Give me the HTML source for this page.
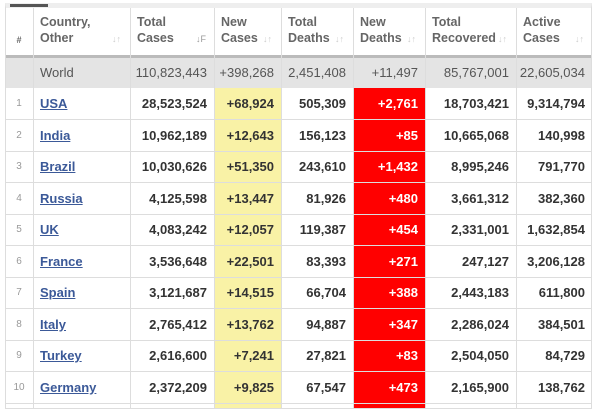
<!DOCTYPE html>
<html><head><style>
body{margin:0;width:600px;height:417px;background:#fff;position:relative;overflow:hidden;font-family:"Liberation Sans",sans-serif}
div{position:absolute;box-sizing:border-box}
.v{top:8px;height:400px;width:1px;background:#ddd}
.h{left:5px;width:587px;height:1px;background:#ddd}
.t{font-size:13px;font-weight:bold;color:#333;text-align:right;line-height:31px;height:31px;white-space:nowrap}
.hd{top:14px;font-size:12.5px;font-weight:bold;color:#666;line-height:16px}
.s{top:34px;font-size:9px;color:#ccc}
.n{font-size:10px;color:#999;text-align:center;line-height:31px;height:31px;left:5px;width:28px}
.c{left:40px;font-size:13px;font-weight:bold;color:#3b5998;text-decoration:underline;line-height:31px;height:31px}
</style></head><body>
<div style="left:5px;top:3px;width:587px;height:406px;border:1px solid #ddd;border-top:5px solid #eee"></div>
<div style="left:10px;top:4px;width:38px;height:3px;background:#555"></div>
<div style="left:5px;top:57px;width:587px;height:31px;background:#e4e4e4"></div>
<div style="left:5px;top:55px;width:587px;height:3px;background:#bbb"></div>
<div style="left:214px;top:88px;width:67px;height:320px;background:#f9f2a6"></div>
<div style="left:353px;top:88px;width:72px;height:320px;background:#f00"></div>
<div class="v" style="left:5px"></div><div class="v" style="left:33px"></div><div class="v" style="left:130px"></div><div class="v" style="left:214px"></div><div class="v" style="left:281px"></div><div class="v" style="left:353px"></div><div class="v" style="left:425px"></div><div class="v" style="left:516px"></div><div class="v" style="left:591px"></div>
<div class="h" style="top:119px"></div><div class="h" style="top:151px"></div><div class="h" style="top:182px"></div><div class="h" style="top:214px"></div><div class="h" style="top:245px"></div><div class="h" style="top:277px"></div><div class="h" style="top:308px"></div><div class="h" style="top:340px"></div><div class="h" style="top:371px"></div><div class="h" style="top:403px"></div>
<div class="hd" style="left:5px;width:28px;text-align:center;top:32px;font-size:9px">#</div>
<div class="hd" style="left:40px">Country,<br>Other</div><div class="s" style="left:112px">↓↑</div>
<div class="hd" style="left:137px">Total<br>Cases</div><div class="s" style="left:196px;color:#999">↓F</div>
<div class="hd" style="left:221px">New<br>Cases</div><div class="s" style="left:263px">↓↑</div>
<div class="hd" style="left:288px">Total<br>Deaths</div><div class="s" style="left:335px">↓↑</div>
<div class="hd" style="left:360px">New<br>Deaths</div><div class="s" style="left:407px">↓↑</div>
<div class="hd" style="left:432px">Total<br>Recovered</div><div class="s" style="left:498px">↓↑</div>
<div class="hd" style="left:523px">Active<br>Cases</div><div class="s" style="left:575px">↓↑</div>
<div class="t" style="left:40px;top:57px;font-weight:normal;color:#555;text-align:left">World</div>
<div class="t" style="left:130px;width:77px;top:57px;font-weight:normal;color:#555">110,823,443</div>
<div class="t" style="left:214px;width:60px;top:57px;font-weight:normal;color:#555">+398,268</div>
<div class="t" style="left:281px;width:65px;top:57px;font-weight:normal;color:#555">2,451,408</div>
<div class="t" style="left:353px;width:65px;top:57px;font-weight:normal;color:#555">+11,497</div>
<div class="t" style="left:425px;width:84px;top:57px;font-weight:normal;color:#555">85,767,001</div>
<div class="t" style="left:516px;width:69px;top:57px;font-weight:normal;color:#555">22,605,034</div>
<div id="rows"></div>
<div class="n" style="top:88px">1</div><div class="c" style="top:88px">USA</div><div class="t" style="top:88px;left:130px;width:77px">28,523,524</div><div class="t" style="top:88px;left:214px;width:60px">+68,924</div><div class="t" style="top:88px;left:281px;width:65px">505,309</div><div class="t" style="top:88px;left:353px;width:65px;color:#fff">+2,761</div><div class="t" style="top:88px;left:425px;width:84px">18,703,421</div><div class="t" style="top:88px;left:516px;width:69px">9,314,794</div>
<div class="n" style="top:120px">2</div><div class="c" style="top:120px">India</div><div class="t" style="top:120px;left:130px;width:77px">10,962,189</div><div class="t" style="top:120px;left:214px;width:60px">+12,643</div><div class="t" style="top:120px;left:281px;width:65px">156,123</div><div class="t" style="top:120px;left:353px;width:65px;color:#fff">+85</div><div class="t" style="top:120px;left:425px;width:84px">10,665,068</div><div class="t" style="top:120px;left:516px;width:69px">140,998</div>
<div class="n" style="top:151px">3</div><div class="c" style="top:151px">Brazil</div><div class="t" style="top:151px;left:130px;width:77px">10,030,626</div><div class="t" style="top:151px;left:214px;width:60px">+51,350</div><div class="t" style="top:151px;left:281px;width:65px">243,610</div><div class="t" style="top:151px;left:353px;width:65px;color:#fff">+1,432</div><div class="t" style="top:151px;left:425px;width:84px">8,995,246</div><div class="t" style="top:151px;left:516px;width:69px">791,770</div>
<div class="n" style="top:183px">4</div><div class="c" style="top:183px">Russia</div><div class="t" style="top:183px;left:130px;width:77px">4,125,598</div><div class="t" style="top:183px;left:214px;width:60px">+13,447</div><div class="t" style="top:183px;left:281px;width:65px">81,926</div><div class="t" style="top:183px;left:353px;width:65px;color:#fff">+480</div><div class="t" style="top:183px;left:425px;width:84px">3,661,312</div><div class="t" style="top:183px;left:516px;width:69px">382,360</div>
<div class="n" style="top:214px">5</div><div class="c" style="top:214px">UK</div><div class="t" style="top:214px;left:130px;width:77px">4,083,242</div><div class="t" style="top:214px;left:214px;width:60px">+12,057</div><div class="t" style="top:214px;left:281px;width:65px">119,387</div><div class="t" style="top:214px;left:353px;width:65px;color:#fff">+454</div><div class="t" style="top:214px;left:425px;width:84px">2,331,001</div><div class="t" style="top:214px;left:516px;width:69px">1,632,854</div>
<div class="n" style="top:246px">6</div><div class="c" style="top:246px">France</div><div class="t" style="top:246px;left:130px;width:77px">3,536,648</div><div class="t" style="top:246px;left:214px;width:60px">+22,501</div><div class="t" style="top:246px;left:281px;width:65px">83,393</div><div class="t" style="top:246px;left:353px;width:65px;color:#fff">+271</div><div class="t" style="top:246px;left:425px;width:84px">247,127</div><div class="t" style="top:246px;left:516px;width:69px">3,206,128</div>
<div class="n" style="top:277px">7</div><div class="c" style="top:277px">Spain</div><div class="t" style="top:277px;left:130px;width:77px">3,121,687</div><div class="t" style="top:277px;left:214px;width:60px">+14,515</div><div class="t" style="top:277px;left:281px;width:65px">66,704</div><div class="t" style="top:277px;left:353px;width:65px;color:#fff">+388</div><div class="t" style="top:277px;left:425px;width:84px">2,443,183</div><div class="t" style="top:277px;left:516px;width:69px">611,800</div>
<div class="n" style="top:309px">8</div><div class="c" style="top:309px">Italy</div><div class="t" style="top:309px;left:130px;width:77px">2,765,412</div><div class="t" style="top:309px;left:214px;width:60px">+13,762</div><div class="t" style="top:309px;left:281px;width:65px">94,887</div><div class="t" style="top:309px;left:353px;width:65px;color:#fff">+347</div><div class="t" style="top:309px;left:425px;width:84px">2,286,024</div><div class="t" style="top:309px;left:516px;width:69px">384,501</div>
<div class="n" style="top:340px">9</div><div class="c" style="top:340px">Turkey</div><div class="t" style="top:340px;left:130px;width:77px">2,616,600</div><div class="t" style="top:340px;left:214px;width:60px">+7,241</div><div class="t" style="top:340px;left:281px;width:65px">27,821</div><div class="t" style="top:340px;left:353px;width:65px;color:#fff">+83</div><div class="t" style="top:340px;left:425px;width:84px">2,504,050</div><div class="t" style="top:340px;left:516px;width:69px">84,729</div>
<div class="n" style="top:372px">10</div><div class="c" style="top:372px">Germany</div><div class="t" style="top:372px;left:130px;width:77px">2,372,209</div><div class="t" style="top:372px;left:214px;width:60px">+9,825</div><div class="t" style="top:372px;left:281px;width:65px">67,547</div><div class="t" style="top:372px;left:353px;width:65px;color:#fff">+473</div><div class="t" style="top:372px;left:425px;width:84px">2,165,900</div><div class="t" style="top:372px;left:516px;width:69px">138,762</div>
</body></html>
